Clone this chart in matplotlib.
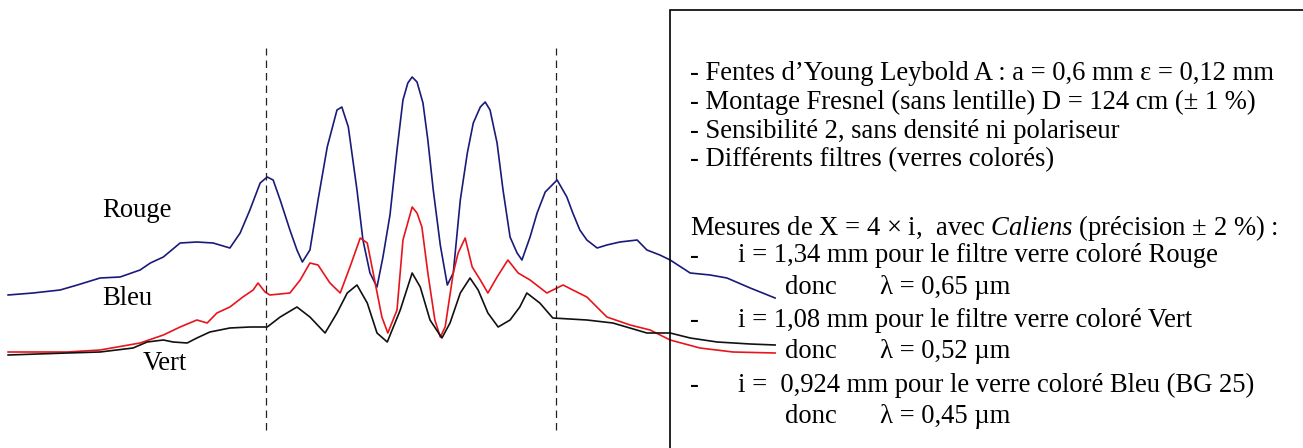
import matplotlib.pyplot as plt
from matplotlib.patches import Rectangle

plt.rcParams['font.family'] = ['Liberation Serif', 'DejaVu Serif']
plt.rcParams['mathtext.fontset'] = 'custom'
plt.rcParams['mathtext.rm'] = 'Liberation Serif'
plt.rcParams['mathtext.it'] = 'Liberation Serif:italic'

# profiles from Caliens: position on the sensor (mm), intensity (arb. units)
pos_rouge = [-7.45, -6.99, -6.49, -6.17, -5.75, -5.38, -5.01, -4.82, -4.58, -4.27,
             -3.96, -3.66, -3.35, -3.16, -2.98, -2.79, -2.66, -2.55, -2.42, -2.24,
             -2.11, -2.01, -1.87, -1.72, -1.55, -1.37, -1.28, -1.16, -1.00, -0.89,
             -0.76, -0.63, -0.52, -0.39, -0.26, -0.15, -0.06, 0.02, 0.11, 0.22,
             0.31, 0.41, 0.54, 0.67, 0.78, 0.91, 1.04, 1.15, 1.28, 1.37,
             1.46, 1.59, 1.70, 1.83, 1.96, 2.05, 2.20, 2.33, 2.48, 2.70,
             2.88, 2.99, 3.12, 3.25, 3.44, 3.62, 3.86, 4.18, 4.36, 4.60,
             4.79, 5.16, 5.53, 5.84, 6.27, 6.73]
int_rouge = [105, 107, 110, 115, 122, 123, 130, 137, 143, 157,
             158, 157, 152, 167, 190, 217, 223, 220, 200, 170,
             150, 138, 150, 200, 253, 290, 293, 273, 210, 160,
             127, 113, 143, 185, 250, 300, 317, 323, 318, 297,
             260, 210, 155, 115, 127, 200, 247, 277, 293, 298,
             290, 257, 210, 163, 147, 140, 163, 187, 208, 220,
             203, 187, 170, 160, 152, 155, 158, 160, 150, 145,
             140, 127, 125, 122, 112, 102]

pos_bleu = [-7.45, -6.36, -5.75, -5.01, -4.58, -4.27, -3.96, -3.77, -3.59, -3.35,
            -3.11, -2.92, -2.83, -2.70, -2.61, -2.24, -2.05, -1.87, -1.72, -1.50,
            -1.31, -1.13, -0.94, -0.81, -0.70, -0.54, -0.43, -0.26, -0.15, 0.02,
            0.11, 0.20, 0.31, 0.44, 0.54, 0.63, 0.78, 0.87, 1.00, 1.13,
            1.28, 1.42, 1.59, 1.79, 1.98, 2.20, 2.51, 2.81, 2.99, 3.25,
            3.62, 4.05, 4.42, 4.79, 5.34, 5.95, 6.73]
int_bleu = [48, 48, 50, 57, 65, 73, 80, 77, 87, 93,
            103, 110, 117, 108, 105, 107, 120, 137, 135, 117,
            107, 133, 162, 157, 127, 83, 67, 90, 160, 193,
            187, 173, 127, 80, 63, 73, 127, 147, 162, 133,
            120, 107, 123, 140, 127, 120, 107, 115, 110, 103,
            83, 75, 70, 60, 52, 48, 47]

pos_vert = [-7.45, -6.36, -5.75, -5.14, -4.88, -4.58, -4.40, -4.14, -3.96, -3.72,
            -3.35, -2.98, -2.66, -2.42, -2.11, -1.87, -1.59, -1.37, -1.18, -1.00,
            -0.81, -0.63, -0.44, -0.20, 0.02, 0.17, 0.35, 0.57, 0.72, 0.91,
            1.09, 1.24, 1.42, 1.61, 1.83, 2.01, 2.14, 2.38, 2.62, 3.25,
            3.73, 4.36, 4.79, 5.16, 5.66, 6.27, 6.73]
int_vert = [45, 47, 48, 52, 58, 60, 58, 57, 62, 68,
            72, 73, 73, 83, 93, 83, 67, 87, 107, 115,
            97, 67, 58, 90, 127, 113, 80, 62, 77, 107,
            122, 110, 87, 73, 80, 93, 107, 97, 82, 80,
            77, 67, 67, 62, 58, 56, 55]

# X = 4i measured between these two marks (red filter)
marks = [-2.68, 2.68]

infos = [
    "- Fentes d\u2019Young Leybold A : a = 0,6 mm \u03b5 = 0,12 mm",
    "- Montage Fresnel (sans lentille) D = 124 cm (\u00b1 1 %)",
    "- Sensibilit\u00e9 2, sans densit\u00e9 ni polariseur",
    "- Diff\u00e9rents filtres (verres color\u00e9s)",
]
mesures = "Mesures de X = 4 \u00d7 i,  avec $\\mathit{Caliens}$ (pr\u00e9cision \u00b1 2 %) :"
filtres = [
    "i = 1,34 mm pour le filtre verre color\u00e9 Rouge",
    "i = 1,08 mm pour le filtre verre color\u00e9 Vert",
    "i =  0,924 mm pour le verre color\u00e9 Bleu (BG 25)",
]
lambdas = ["\u03bb = 0,65 \u00b5m", "\u03bb = 0,52 \u00b5m", "\u03bb = 0,45 \u00b5m"]

W, H = 1303, 448
fig = plt.figure(figsize=(W / 100, H / 100), dpi=100)
ax = fig.add_axes([0, 0, 1, 1])

ax.plot(pos_rouge, int_rouge, color='#1a1a78', lw=1.2)
ax.plot(pos_bleu, int_bleu, color='#e8141c', lw=1.2)
ax.plot(pos_vert, int_vert, color='#111111', lw=1.2)
ax.vlines(marks, -30, 352, colors='#222222', linestyles=(0, (6, 4)), lw=0.9)

fs = 19.2
ax.text(-5.71, 190, "Rouge", fontsize=fs, va='center')
ax.text(-5.71, 102, "Bleu", fontsize=fs, va='center')
ax.text(-4.97, 37, "Vert", fontsize=fs, va='center')

ax.set_xlim(-7.6, 16.49)
ax.set_ylim(-48, 400)
ax.axis('off')

# frame of the info box
fig.add_artist(Rectangle((670 / W, -0.05), 0.6, 1.05 - 10 / H,
                         transform=fig.transFigure, fill=False, lw=1.2, color='k'))


def put(x, y, s, **kw):
    fig.text(x / W, 1 - y / H, s, fontsize=fs, va='center', **kw)


for k, s in enumerate(infos):
    put(690, 74 + 28.6 * k, s)
put(690, 228, mesures)
for k in range(3):
    y = 256 + 64.5 * k
    put(690, y, "-")
    put(738, y, filtres[k])
    put(785, y + 31, "donc")
    put(880, y + 31, lambdas[k])

fig.savefig('out.png', dpi=100)
